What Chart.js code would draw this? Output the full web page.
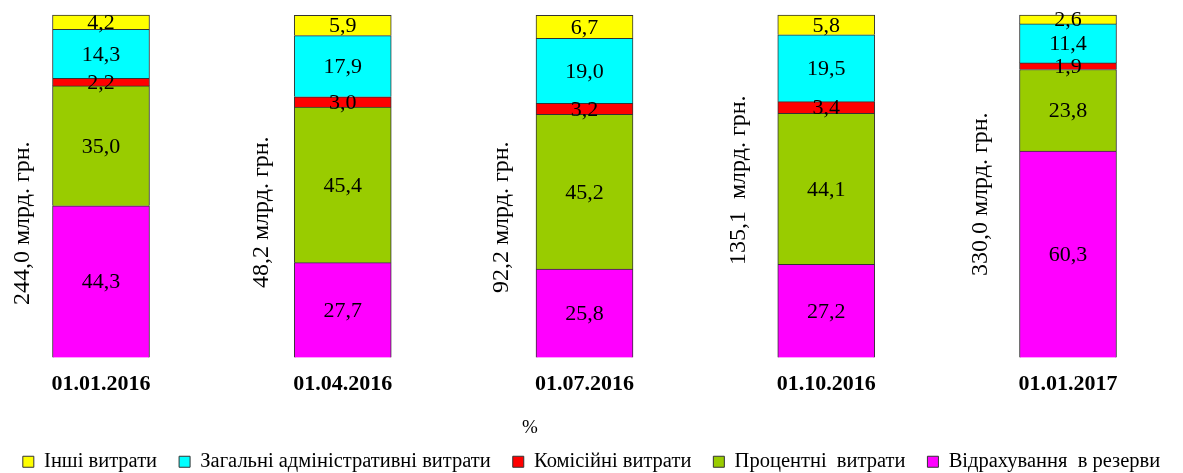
<!DOCTYPE html>
<html>
<head>
<meta charset="utf-8">
<script src="https://cdn.jsdelivr.net/npm/chart.js@4"></script>
<style>
  html, body { margin: 0; padding: 0; background: #fff; overflow: hidden; }
  #wrap { width: 1183px; height: 482px; }
</style>
</head>
<body>
<div id="wrap"><canvas id="costChart"></canvas></div>
<script>
// Chart data
const dates = ['01.01.2016', '01.04.2016', '01.07.2016', '01.10.2016', '01.01.2017'];
const totals = ['244,0 млрд. грн.', '48,2 млрд. грн.', '92,2 млрд. грн.', '135,1  млрд. грн.', '330,0 млрд. грн.'];

const reserves = [44.3, 27.7, 25.8, 27.2, 60.3];   // Відрахування в резерви
const interest = [35.0, 45.4, 45.2, 44.1, 23.8];   // Процентні витрати
const commission = [2.2, 3.0, 3.2, 3.4, 1.9];      // Комісійні витрати
const admin = [14.3, 17.9, 19.0, 19.5, 11.4];      // Загальні адміністративні витрати
const other = [4.2, 5.9, 6.7, 5.8, 2.6];           // Інші витрати

const FONT = "'Liberation Serif', 'Times New Roman', serif";

// value labels inside segments + rotated totals + "%" caption
const labelsPlugin = {
  id: 'barLabels',
  afterDatasetsDraw(chart) {
    const ctx = chart.ctx;
    ctx.save();
    ctx.fillStyle = '#000';
    ctx.textAlign = 'center';
    ctx.textBaseline = 'middle';
    ctx.font = '22px ' + FONT;
    chart.data.datasets.forEach((ds, i) => {
      const meta = chart.getDatasetMeta(i);
      meta.data.forEach((bar, j) => {
        const txt = ds.data[j].toFixed(1).replace('.', ',');
        ctx.fillText(txt, bar.x, (bar.y + bar.base) / 2 + 1);
      });
    });

    // totals, rotated, to the left of each bar
    const dx = [-78, -81, -83, -88, -87];
    const dy = [37, 26, 31, -6, 8];
    const midY = (chart.chartArea.top + chart.chartArea.bottom) / 2;
    ctx.font = '24px ' + FONT;
    chart.getDatasetMeta(0).data.forEach((bar, j) => {
      ctx.save();
      ctx.translate(bar.x + dx[j], midY + dy[j]);
      ctx.rotate(-Math.PI / 2);
      ctx.fillText(totals[j], 0, 0);
      ctx.restore();
    });

    ctx.font = '19px ' + FONT;
    ctx.fillText('%', 530, 428);
    ctx.restore();
  }
};

const ctx = document.getElementById('costChart').getContext('2d');
const chart = new Chart(ctx, {
  type: 'bar',
  data: {
    labels: dates,
    datasets: [
      { label: 'Відрахування  в резерви', data: reserves, backgroundColor: '#FF00FF' },
      { label: 'Процентні  витрати', data: interest, backgroundColor: '#99CC00' },
      { label: 'Комісійні витрати', data: commission, backgroundColor: '#FF0000' },
      { label: 'Загальні адміністративні витрати', data: admin, backgroundColor: '#00FFFF' },
      { label: 'Інші витрати', data: other, backgroundColor: '#FFFF00' }
    ].map(d => Object.assign(d, { borderColor: '#333', borderWidth: 1, barThickness: 97, clip: false }))
  },
  options: {
    responsive: true,
    maintainAspectRatio: false,
    animation: false,
    layout: { padding: { top: 15, left: 0, right: 0, bottom: 0 } },
    scales: {
      x: {
        stacked: true,
        offset: false,
        grid: { display: false },
        border: { display: false },
        ticks: { color: '#000', padding: 6, font: { family: FONT, size: 22, weight: 'bold' } },
        afterFit: scale => {
          scale.height = 72;
          scale.paddingLeft = 101;
          scale.paddingRight = 115;
        }
      },
      y: {
        stacked: true,
        display: false,
        min: 0,
        max: 100
      }
    },
    plugins: {
      tooltip: { enabled: false },
      legend: {
        position: 'bottom',
        reverse: true,
        labels: {
          color: '#000',
          boxWidth: 11,
          boxHeight: 11,
          padding: 22,
          font: { family: FONT, size: 20.5 }
        }
      }
    }
  },
  plugins: [labelsPlugin]
});
</script>
</body>
</html>
